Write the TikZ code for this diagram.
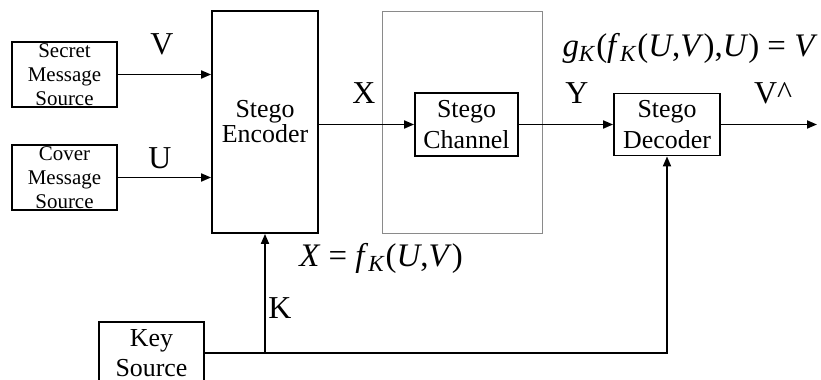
\documentclass[tikz,border=0pt]{standalone}
\usepackage{fontspec}
\setmainfont{Liberation Serif}
\usetikzlibrary{arrows.meta, positioning, calc}
\definecolor{cframe}{HTML}{8A8A8A}
\newcommand{\vr}[1]{\textit{#1}}
\newcommand{\fnk}[1]{\textit{#1}\textsubscript{\textit{K}}}
\tikzset{
  every picture/.style={line width=0.9bp},
  box/.style={draw, inner sep=0pt, align=center, font=\fontsize{13}{16}\selectfont},
  srcbox/.style={box, minimum width=52.5bp, minimum height=32.5bp, font=\fontsize{10.5}{12}\selectfont},
  arrow/.style={-{Triangle[length=5bp, width=4bp]}},
  sig/.style={font=\fontsize{16}{18}\selectfont},
  eqn/.style={font=\fontsize{16.5}{18}\selectfont},
}

\begin{document}
\begin{tikzpicture}[x=0.5bp, y=-0.5bp]
  \useasboundingbox (0,0) rectangle (821,380);
  \node[draw=cframe, line width=0.5bp, minimum width=80bp, minimum height=111bp] (frame) at (462,123) {};
  \node[srcbox] (secret) at (64.5,74.5) {Secret\\Message\\Source};
  \node[srcbox] (cover) at (64.5,177.5) {Cover\\Message\\Source};
  \node[box, minimum width=53bp, minimum height=111bp, font=\fontsize{13}{12.5}\selectfont] (enc) at (265,122) {Stego\\Encoder};
  \node[box, minimum width=51.5bp, minimum height=31.5bp] (chan) at (466.5,124.5) {Stego\\Channel};
  \node[box, minimum width=53bp, minimum height=31bp] (dec) at (667,124.5) {Stego\\Decoder};
  \node[box, minimum width=52.5bp, minimum height=31bp, font=\fontsize{13}{15}\selectfont] (key) at (151.5,353) {Key\\Source};
  \coordinate (out) at (817,124.5);
  \coordinate (ktap) at (enc.south |- key.east);
  \draw[arrow] (secret.east) -- (secret.east -| enc.west);
  \draw[arrow] (cover.east) -- (cover.east -| enc.west);
  \draw[arrow] (chan.west -| enc.east) -- (chan.west);
  \draw[arrow] (chan.east) -- (dec.west);
  \draw[arrow] (dec.east) -- (out);
  \draw[arrow] (ktap) -- (enc.south);
  \draw[arrow] (key.east) -| (dec.south);
  \node[sig] (lv) at (162,44) {V};
  \node[sig] (lu) at (160,158) {U};
  \node[sig] (lx) at (364,93) {X};
  \node[sig] (ly) at (577,93) {Y};
  \node[sig] (lvhat) at (773,93) {V\textasciicircum};
  \node[sig] (lk) at (280,308) {K};
  \node[eqn] (enceq) at (381,258) {\vr{X} = \fnk{f}(\vr{U},\vr{V})};
  \node[eqn] (deceq) at (690,48) {\fnk{g}(\fnk{f}(\vr{U},\vr{V}),\vr{U}) = \vr{V}};
\end{tikzpicture}
\end{document}
